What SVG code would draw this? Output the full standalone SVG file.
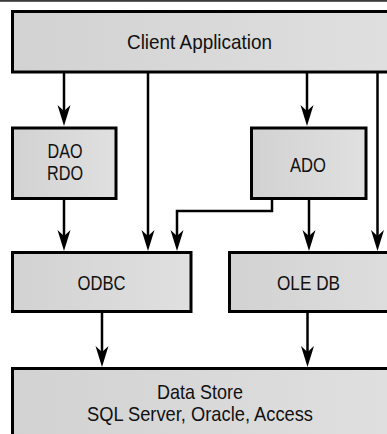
<svg xmlns="http://www.w3.org/2000/svg" width="387" height="434" viewBox="0 0 387 434">
  <defs>
    <linearGradient id="fill" x1="0" y1="0" x2="1" y2="0">
      <stop offset="0" stop-color="#d2d2d2"/>
      <stop offset="1" stop-color="#e0e0e0"/>
    </linearGradient>
    <marker id="arrow" markerUnits="userSpaceOnUse" viewBox="-22 -8 23 16" refX="-8" refY="0" markerWidth="23" markerHeight="16" orient="auto">
      <path d="M0,0 L-21,-6.5 L-15,0 L-21,6.5 Z" fill="#000"/>
    </marker>
    <style>
      .box { fill: url(#fill); stroke: #000; stroke-width: 3; }
      .lbl { font-family: "Liberation Sans", Arial, sans-serif; font-size: 21px; fill: #111; text-anchor: middle; }
      .con { fill: none; stroke: #000; stroke-width: 2.5; }
      .arr { marker-end: url(#arrow); }
    </style>
  </defs>
  <rect x="0" y="0" width="387" height="434" fill="#fff"/>
  <rect x="0" y="0" width="387" height="1.8" fill="#3a3a3a"/>

  <g id="connectors">
    <path class="con arr" d="M64,73 V118"/>
    <path class="con arr" d="M148,73 V243"/>
    <path class="con arr" d="M307,73 V118"/>
    <path class="con arr" d="M377.5,73 V243"/>
    <path class="con arr" d="M64,200 V243"/>
    <path class="con arr" d="M272,200 V211 H177 V243"/>
    <path class="con arr" d="M309,200 V243"/>
    <path class="con arr" d="M102,313 V359"/>
    <path class="con arr" d="M307.5,313 V359"/>
  </g>

  <g id="client">
    <rect class="box" x="12.5" y="11.5" width="400" height="60.5"/>
    <text class="lbl" x="199.5" y="49" textLength="145" lengthAdjust="spacingAndGlyphs">Client Application</text>
  </g>
  <g id="dao">
    <rect class="box" x="12.5" y="128" width="103.5" height="70.5"/>
    <text class="lbl" x="65" y="158" textLength="35" lengthAdjust="spacingAndGlyphs">DAO</text>
    <text class="lbl" x="65" y="180" textLength="36" lengthAdjust="spacingAndGlyphs">RDO</text>
  </g>
  <g id="ado">
    <rect class="box" x="251.5" y="128" width="114.5" height="70.5"/>
    <text class="lbl" x="308" y="172" textLength="36" lengthAdjust="spacingAndGlyphs">ADO</text>
  </g>
  <g id="odbc">
    <rect class="box" x="12.5" y="252.5" width="178.5" height="59"/>
    <text class="lbl" x="101.5" y="290" textLength="48" lengthAdjust="spacingAndGlyphs">ODBC</text>
  </g>
  <g id="oledb">
    <rect class="box" x="229.5" y="252.5" width="200" height="59"/>
    <text class="lbl" x="308.5" y="290" textLength="63" lengthAdjust="spacingAndGlyphs">OLE DB</text>
  </g>
  <g id="datastore">
    <rect class="box" x="12.5" y="368.5" width="400" height="80"/>
    <text class="lbl" x="200" y="399" textLength="86" lengthAdjust="spacingAndGlyphs">Data Store</text>
    <text class="lbl" x="200" y="421" textLength="226" lengthAdjust="spacingAndGlyphs">SQL Server, Oracle, Access</text>
  </g>
</svg>
